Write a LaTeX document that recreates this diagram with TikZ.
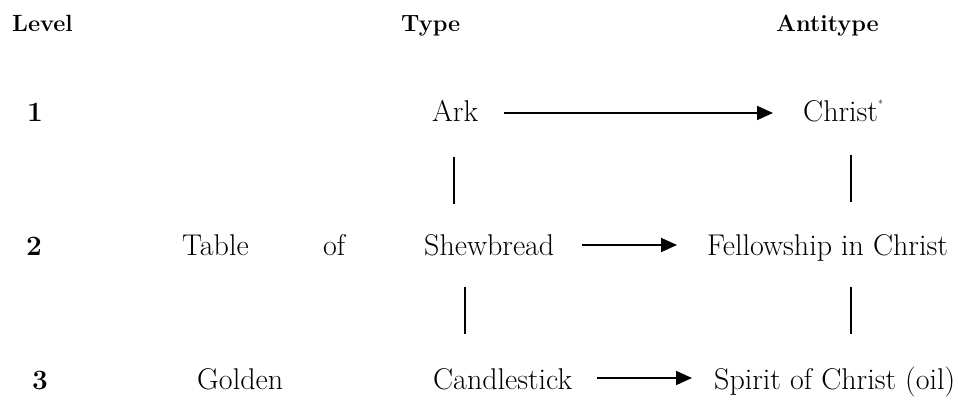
\documentclass[tikz,border=0pt]{standalone}
\usepackage{fontspec}
\usetikzlibrary{arrows.meta}
\begin{document}
\begin{tikzpicture}[x=1pt,y=1pt,
  txt/.style={anchor=base west,inner sep=0pt,font=\fontsize{30}{33}\selectfont},
  hdr/.style={anchor=base west,inner sep=0pt,font=\fontsize{23.5}{26}\selectfont\bfseries},
  num/.style={anchor=base west,inner sep=0pt,font=\fontsize{28}{30}\selectfont\bfseries},
  arr/.style={line width=1.7pt,-{Triangle[length=16pt,width=14pt]}},
  vline/.style={line width=1.3pt}]
\useasboundingbox (0,0) rectangle (958,401);
% headers
\node[hdr] (hlevel) at (12,369) {Level};
\node[hdr] (htype) at (401,369) {Type};
\node[hdr] (hanti) at (776,369) {Antitype};
% row 1
\node[num] (n1) at (27,279) {1};
\node[txt] (ark) at (432,279) {Ark};
\node[txt] (christ) at (803,279) {Christ\raisebox{14pt}{\fontsize{10}{10}\selectfont *}};
% row 2
\node[num] (n2) at (26,145) {2};
\node[txt] (table) at (182,145) {Table};
\node[txt] (of) at (323,145) {of};
\node[txt] (shew) at (424,145) {Shewbread};
\node[txt] (fellow) at (707,145) {Fellowship in Christ};
% row 3
\node[num] (n3) at (32,11) {3};
\node[txt] (golden) at (197,11) {Golden};
\node[txt] (candle) at (433,11) {Candlestick};
\node[txt] (spirit) at (714,11) {Spirit of Christ (oil)};
% horizontal arrows
\draw[arr] ([shift={(26,9)}]ark.base east) -- ([shift={(-30,9)}]christ.base west);
\draw[arr] ([shift={(27,11)}]shew.base east) -- ([shift={(-30,11)}]fellow.base west);
\draw[arr] ([shift={(25,12)}]candle.base east) -- ([shift={(-22,12)}]spirit.base west);
% vertical links
\coordinate (l1a) at (454,244); \coordinate (l1b) at (454,197);
\coordinate (r1a) at (851,246); \coordinate (r1b) at (851,199);
\coordinate (l2a) at (465,114); \coordinate (l2b) at (465,67);
\coordinate (r2a) at (851,114); \coordinate (r2b) at (851,67);
\draw[vline] (l1a) -- (l1b);
\draw[vline] (r1a) -- (r1b);
\draw[vline] (l2a) -- (l2b);
\draw[vline] (r2a) -- (r2b);
\end{tikzpicture}
\end{document}
